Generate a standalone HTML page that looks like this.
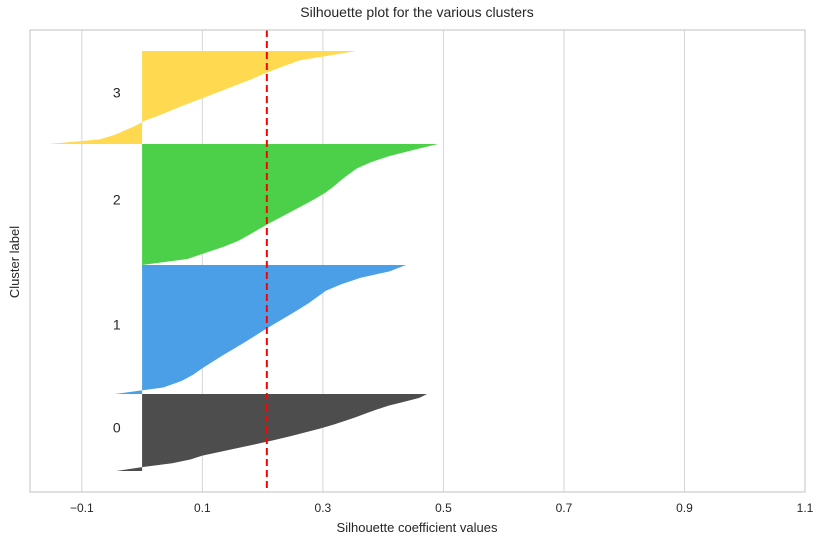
<!DOCTYPE html>
<html><head><meta charset="utf-8"><style>
body{margin:0;background:#fff}
svg text{font-family:"Liberation Sans",sans-serif;fill:#262626}
</style></head><body>
<svg id="chart" width="824" height="545" viewBox="0 0 824 545" xmlns="http://www.w3.org/2000/svg">
<g id="grid"></g><g id="marks"></g><g id="overlay"></g>
<text x="417" y="17" text-anchor="middle" font-size="14">Silhouette plot for the various clusters</text>
<text x="417" y="532" text-anchor="middle" font-size="13">Silhouette coefficient values</text>
<text transform="translate(19,262) rotate(-90)" text-anchor="middle" font-size="13">Cluster label</text>
</svg>
<script>
const clusterLabels = ['0','1','2','3'];
const clusterSizes = [77,129,121,93];
const clusterColors = ['#4d4d4d','#4a9fe6','#4cd04a','#ffd94f'];
const sil0 = [-0.043,0.0,0.05,0.08,0.1,0.13,0.16,0.19,0.218,0.245,0.27,0.295,0.317,0.336,0.355,0.372,0.39,0.41,0.435,0.46,0.473];
const sil1 = [-0.045,0.035,0.065,0.085,0.1,0.117,0.134,0.152,0.17,0.187,0.204,0.222,0.24,0.258,0.275,0.29,0.305,0.33,0.362,0.41,0.438];
const sil2 = [0.0,0.075,0.105,0.135,0.16,0.178,0.195,0.213,0.232,0.251,0.27,0.288,0.305,0.318,0.33,0.343,0.357,0.38,0.41,0.45,0.491];
const sil3 = [-0.154,-0.07,-0.045,-0.027,-0.01,0.004,0.025,0.044,0.063,0.083,0.103,0.123,0.143,0.163,0.183,0.2,0.22,0.24,0.262,0.31,0.355];
const silValues = [sil0,sil1,sil2,sil3];
const avgScore = 0.207;
const xTicks = [-0.1,0.1,0.3,0.5,0.7,0.9,1.1];
const xTickLabels = ['−0.1','0.1','0.3','0.5','0.7','0.9','1.1'];
const X0=30,X1=805,Y0=30,Y1=492, XMIN=-0.186, XMAX=1.1, YMAX=462, GAP=21;
const sx=v=>X0+(v-XMIN)/(XMAX-XMIN)*(X1-X0);
const sy=v=>Y1-v/YMAX*(Y1-Y0);
const NS='http://www.w3.org/2000/svg';
function mk(tag,attrs,parent){const e=document.createElementNS(NS,tag);for(const k in attrs)e.setAttribute(k,attrs[k]);parent.appendChild(e);return e;}
const grid=document.getElementById('grid'),marks=document.getElementById('marks'),ov=document.getElementById('overlay');
xTicks.forEach((t,i)=>{
  const l=mk('line',{x1:sx(t),x2:sx(t),y1:Y0,y2:Y1,stroke:'#d5d5d5','stroke-width':1},grid);
  
  
  const tx=mk('text',{x:sx(t),y:512,'text-anchor':'middle','font-size':12},grid);
  tx.textContent=xTickLabels[i];
  
  
});
let yStart=GAP;
clusterSizes.forEach((n,c)=>{
  const vals=silValues[c],yEnd=yStart+n;
  let pts=[[sx(0),sy(yStart)]];
  vals.forEach((v,i)=>{pts.push([sx(v),sy(yStart+n*i/(vals.length-1))]);});
  pts.push([sx(0),sy(yEnd)]);
  const p=mk('polygon',{points:pts.map(q=>q.join(',')).join(' '),fill:clusterColors[c],'fill-opacity':1},marks);
  
  
  const t=mk('text',{x:sx(-0.042),y:sy(yStart+n/2),'text-anchor':'middle','font-size':14},marks);
  t.textContent=clusterLabels[c];
  
  
  yStart=yEnd;
});
const av=mk('line',{x1:sx(avgScore),x2:sx(avgScore),y1:Y0,y2:Y1,stroke:'#ff0000','stroke-width':2,'stroke-dasharray':'7,4'},ov);


const fr=mk('rect',{x:X0,y:Y0,width:X1-X0,height:Y1-Y0,fill:'none',stroke:'#cccccc','stroke-width':1.2},ov);


</script>
</body></html>
